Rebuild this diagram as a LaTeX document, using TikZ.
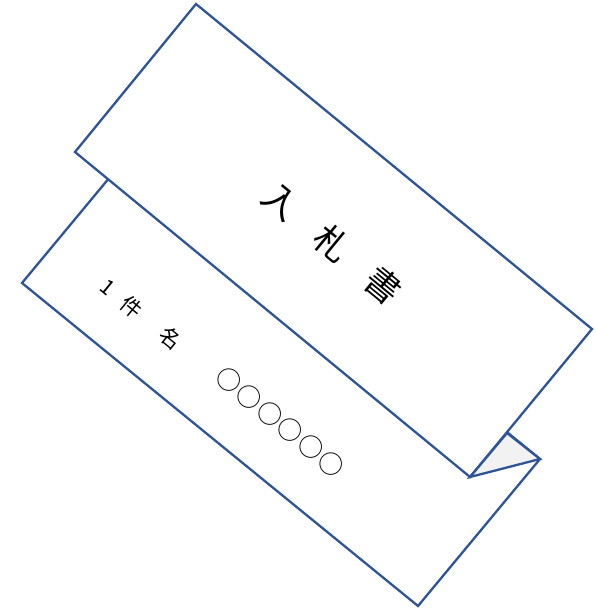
\documentclass[tikz,border=0pt]{standalone}
\usepackage{fontspec}
\newfontfamily\jpfont{Noto Sans CJK JP}
\definecolor{cardblue}{HTML}{2F5597}
\definecolor{flapgray}{HTML}{F2F2F2}
\begin{document}
\begin{tikzpicture}[x=1pt, y=-1pt,
    card/.style={draw=cardblue, line width=2.3pt, fill=white, line join=miter},
    flap/.style={draw=cardblue, line width=2.3pt, fill=flapgray, line join=miter},
    slant/.style={rotate=-39.4, inner sep=0pt, font=\jpfont}]
  \useasboundingbox (0,0) rectangle (596,610);
  % back sheet
  \coordinate (bl) at (22,283);
  \coordinate (bb) at (418,606);
  \coordinate (br) at (540,459);
  \coordinate (bt) at (144,136);
  \draw[card] (bl) -- (bb) -- (br) -- (bt) -- cycle;
  % front sheet
  \coordinate (ft) at (196,4);
  \coordinate (fr) at (592,329);
  \coordinate (fb) at (470,477);
  \coordinate (fl) at (75,152);
  \draw[card] (ft) -- (fr) -- (fb) -- (fl) -- cycle;
  % folded corner
  \coordinate (fk) at (507,433);
  \draw[flap] (fb) -- (fk) -- (br) -- cycle;
  % texts
  \node[slant, font=\jpfont\fontsize{35}{35}\selectfont] (title) at (332,243)
      {入\hspace{31pt}札\hspace{31pt}書};
  \node[slant, font=\jpfont\fontsize{21}{21}\selectfont, anchor=west] (kenmei) at (103,283)
      {1\hspace{15pt}件\hspace{29pt}名};
  \node[slant, font={\jpfont\fontsize{25}{25}\selectfont\addfontfeature{LetterSpace=6}}] (name) at (280,422)
      {○○○○○○};
\end{tikzpicture}
\end{document}
